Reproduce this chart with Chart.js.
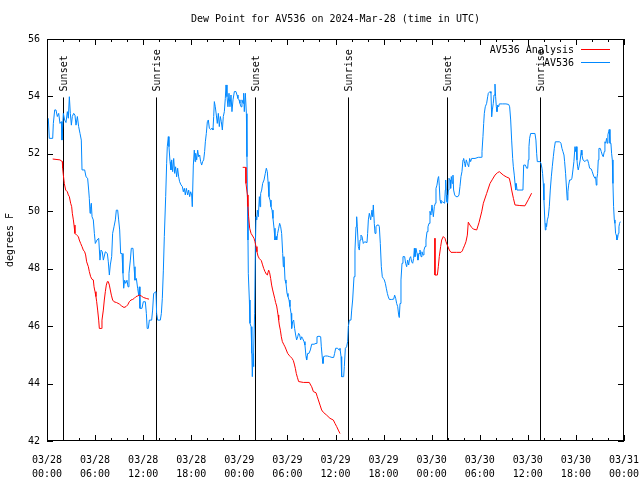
<!DOCTYPE html>
<html>
<head>
<meta charset="utf-8">
<title>Dew Point for AV536</title>
<script src="https://cdn.jsdelivr.net/npm/chart.js@4.4.1/dist/chart.umd.min.js"></script>
<style>
    html, body { margin: 0; padding: 0; background: #fff; }
    canvas { display: block; }
</style>
</head>
<body>
<canvas id="dewChart" width="640" height="480"></canvas>
<script>
// Hours after 03/28 00:00 UTC, dew point in degrees F
const obsHours = [
    0.16, 0.29, 0.71, 0.79, 0.96, 1.12, 1.29, 1.46, 1.62, 1.79,
    1.87, 2.04, 2.20, 2.37, 2.54, 2.66, 2.79, 2.91, 3.04, 3.16,
    3.33, 3.49, 3.62, 3.79, 3.95, 4.12, 4.28, 4.37, 4.70, 4.87,
    5.07, 5.20, 5.28, 5.37, 5.45, 5.53, 5.62, 5.78, 5.91, 6.03,
    6.24, 6.45, 6.61, 6.74, 6.90, 7.03, 7.28, 7.53, 7.65, 7.78,
    7.90, 8.07, 8.19, 8.36, 8.53, 8.65, 8.82, 8.94, 9.07, 9.19,
    9.36, 9.48, 9.57, 9.69, 9.82, 9.98, 10.11, 10.23, 10.40, 10.52,
    10.73, 10.86, 10.98, 11.15, 11.31, 11.44, 11.52, 11.60, 11.85, 12.02,
    12.27, 12.40, 12.50, 12.64, 12.77, 13.06, 13.18, 13.31, 13.60, 13.68,
    13.81, 14.14, 14.27, 14.39, 14.52, 14.64, 14.81, 14.93, 15.01, 15.14,
    15.22, 15.35, 15.47, 15.56, 15.68, 15.81, 15.93, 16.05, 16.18, 16.30,
    16.43, 16.55, 16.72, 16.89, 17.01, 17.14, 17.26, 17.39, 17.55, 17.68,
    17.80, 17.93, 18.05, 18.13, 18.26, 18.38, 18.47, 18.55, 18.68, 18.80,
    18.92, 19.05, 19.17, 19.30, 19.42, 19.55, 19.67, 19.76, 19.88, 20.01,
    20.13, 20.26, 20.42, 20.59, 20.71, 20.80, 20.88, 21.00, 21.13, 21.25,
    21.38, 21.50, 21.63, 21.75, 21.88, 22.00, 22.13, 22.25, 22.34, 22.46,
    22.58, 22.71, 22.83, 22.96, 23.08, 23.21, 23.38, 23.58, 23.71, 23.83,
    23.96, 24.08, 24.21, 24.33, 24.46, 24.54, 24.62, 24.75, 24.88, 24.95,
    25.02, 25.08, 25.12, 25.25, 25.33, 25.46, 25.54, 25.58, 25.62, 25.71,
    25.75, 25.83, 25.91, 26.00, 26.08, 26.16, 26.25, 26.37, 26.50, 26.58,
    26.66, 26.79, 26.91, 27.08, 27.24, 27.37, 27.49, 27.58, 27.70, 27.83,
    27.95, 28.08, 28.20, 28.33, 28.45, 28.58, 28.66, 28.78, 28.91, 29.03,
    29.16, 29.28, 29.41, 29.49, 29.57, 29.70, 29.82, 29.95, 30.07, 30.20,
    30.32, 30.45, 30.53, 30.65, 30.78, 30.90, 31.03, 31.15, 31.28, 31.40,
    31.53, 31.65, 31.78, 31.90, 32.07, 32.19, 32.32, 32.40, 32.53, 32.69,
    32.86, 33.03, 33.32, 33.57, 33.69, 33.94, 34.15, 34.23, 34.36, 34.44,
    34.52, 34.73, 34.98, 35.23, 35.56, 35.77, 35.89, 36.02, 36.27, 36.44,
    36.56, 36.69, 36.77, 37.02, 37.10, 37.23, 37.39, 37.52, 37.60, 37.73,
    37.93, 38.02, 38.14, 38.31, 38.43, 38.56, 38.64, 38.72, 38.85, 38.97,
    39.06, 39.18, 39.31, 39.47, 39.64, 39.93, 40.01, 40.10, 40.22, 40.39,
    40.55, 40.64, 40.72, 40.84, 40.93, 41.05, 41.18, 41.39, 41.47, 41.59,
    41.72, 41.84, 41.97, 42.09, 42.22, 42.34, 42.47, 42.59, 42.72, 43.01,
    43.26, 43.38, 43.51, 43.63, 43.76, 43.88, 43.96, 44.05, 44.17, 44.30,
    44.42, 44.63, 44.75, 44.88, 45.00, 45.13, 45.25, 45.38, 45.50, 45.63,
    45.75, 45.84, 45.92, 46.04, 46.17, 46.29, 46.42, 46.54, 46.67, 46.79,
    46.92, 47.04, 47.17, 47.29, 47.42, 47.54, 47.67, 47.79, 47.91, 48.04,
    48.21, 48.33, 48.46, 48.54, 48.66, 48.79, 48.87, 48.95, 49.04, 49.16,
    49.37, 49.62, 49.70, 49.75, 49.83, 49.91, 49.99, 50.08, 50.16, 50.29,
    50.37, 50.45, 50.58, 50.66, 50.74, 50.87, 51.03, 51.28, 51.41, 51.53,
    51.66, 51.78, 51.91, 51.99, 52.12, 52.20, 52.32, 52.45, 52.62, 52.74,
    52.86, 52.99, 53.41, 53.82, 54.20, 54.28, 54.40, 54.49, 54.57, 54.69,
    54.86, 54.99, 55.07, 55.28, 55.40, 55.49, 55.57, 55.69, 55.78, 55.90,
    55.98, 56.07, 56.15, 56.23, 56.36, 56.44, 56.86, 57.27, 57.61, 57.73,
    57.86, 57.98, 58.11, 58.19, 58.31, 58.40, 58.48, 58.56, 58.65, 59.02,
    59.39, 59.48, 59.69, 59.85, 59.98, 60.06, 60.14, 60.22, 60.35, 60.89,
    61.01, 61.10, 61.18, 61.51, 61.64, 61.76, 61.84, 61.93, 62.01, 62.09,
    62.18, 62.26, 62.34, 62.43, 62.55, 62.68, 62.80, 62.93, 63.05, 63.18,
    63.30, 63.43, 63.97, 64.13, 64.26, 64.38, 64.51, 64.59, 64.71, 64.84,
    64.92, 65.00, 65.09, 65.21, 65.38, 65.50, 65.63, 65.75, 65.88, 65.96,
    66.04, 66.13, 66.21, 66.29, 66.42, 66.54, 66.67, 66.75, 66.88, 67.13,
    67.33, 67.46, 67.58, 67.71, 67.92, 68.04, 68.21, 68.37, 68.46, 68.54,
    68.62, 68.71, 68.79, 68.87, 69.04, 69.16, 69.29, 69.41, 69.54, 69.62,
    69.71, 69.83, 69.91, 69.99, 70.08, 70.16, 70.25, 70.37, 70.45, 70.54,
    70.62, 70.70, 70.79, 70.87, 70.95, 71.04, 71.12, 71.20, 71.29, 71.37,
    71.45, 71.54
];
const obsDewpt = [
    53.24, 52.54, 52.54, 53.06, 53.53, 53.53, 53.30, 53.41, 53.06, 53.12,
    52.48, 53.41, 53.18, 53.09, 53.47, 53.24, 53.99, 53.41, 53.00, 53.30,
    53.41, 53.35, 53.00, 53.30, 52.95, 52.71, 52.48, 51.44, 51.44, 51.20,
    51.15, 50.74, 50.45, 49.93, 50.16, 50.28, 49.81, 49.70, 49.23, 48.88,
    49.00, 49.06, 48.30, 48.65, 48.59, 48.30, 48.59, 48.53, 48.24, 47.78,
    48.13, 48.42, 49.23, 49.46, 49.70, 50.04, 50.04, 49.70, 49.35, 48.53,
    48.53, 47.84, 47.32, 47.60, 47.49, 47.60, 47.37, 47.84, 48.30, 48.71,
    48.71, 48.07, 47.60, 47.66, 47.32, 47.08, 47.37, 46.62, 46.62, 46.85,
    46.85, 46.44, 45.92, 45.92, 46.21, 46.21, 46.56, 47.14, 47.20, 46.44,
    46.21, 46.21, 46.44, 46.97, 47.95, 49.12, 50.51, 51.67, 52.25, 52.60,
    52.25, 51.73, 51.44, 51.79, 51.38, 51.84, 51.32, 51.55, 51.20, 51.50,
    51.20, 51.03, 50.92, 50.86, 50.68, 50.80, 50.57, 50.80, 50.57, 50.74,
    50.51, 50.68, 50.57, 50.16, 51.61, 52.13, 51.73, 52.02, 51.79, 52.13,
    51.90, 51.96, 51.73, 51.61, 51.73, 51.79, 52.08, 52.42, 52.71, 53.12,
    53.18, 52.89, 52.85, 52.89, 52.83, 53.30, 53.82, 53.64, 53.35, 53.06,
    53.41, 52.95, 53.30, 53.12, 52.83, 53.30, 53.47, 53.93, 54.40, 53.99,
    53.64, 54.11, 53.64, 54.05, 53.47, 53.88, 54.17, 54.17, 54.05, 53.93,
    53.88, 53.76, 53.64, 53.88, 53.76, 54.11, 53.47, 54.11, 53.40, 51.90,
    50.16, 49.00, 47.84, 46.91, 46.10, 45.98, 45.52, 45.05, 44.24, 45.05,
    44.59, 45.17, 46.45, 48.77, 49.81, 49.70, 50.04, 49.81, 50.51, 50.16,
    50.62, 50.74, 50.97, 51.09, 51.32, 51.50, 51.38, 51.03, 50.51, 50.39,
    50.16, 50.04, 49.75, 49.41, 49.00, 49.12, 49.00, 49.23, 49.41, 49.58,
    49.46, 49.23, 48.53, 48.07, 48.42, 47.61, 47.49, 47.14, 47.03, 46.91,
    46.68, 46.45, 45.92, 46.15, 46.21, 45.92, 45.69, 45.52, 45.63, 45.75,
    45.69, 45.52, 45.63, 45.57, 45.46, 45.34, 44.94, 44.82, 45.05, 45.05,
    45.17, 45.37, 45.37, 45.40, 45.63, 45.65, 45.63, 45.28, 44.88, 44.70,
    44.94, 44.96, 44.96, 44.94, 44.91, 44.91, 45.05, 45.23, 45.23, 45.17,
    45.23, 44.94, 44.24, 44.24, 44.59, 45.23, 45.28, 45.47, 45.98, 46.21,
    46.21, 46.56, 46.91, 47.72, 48.65, 49.46, 49.81, 49.46, 48.77, 48.65,
    49.00, 49.17, 49.12, 48.88, 48.94, 48.91, 49.23, 49.70, 49.93, 49.70,
    50.04, 49.81, 50.22, 49.58, 49.23, 49.46, 49.52, 49.52, 49.46, 48.88,
    48.07, 47.72, 47.66, 47.61, 47.49, 47.32, 47.14, 47.02, 46.93, 46.93,
    46.94, 47.08, 46.97, 46.79, 46.68, 46.39, 46.30, 46.79, 47.61, 48.19,
    48.42, 48.42, 48.19, 48.07, 48.30, 48.13, 48.36, 48.42, 48.24, 48.19,
    48.36, 48.71, 48.42, 48.71, 48.53, 48.30, 48.53, 48.65, 48.42, 48.59,
    48.48, 48.65, 48.77, 49.00, 49.29, 49.46, 49.58, 50.00, 49.87, 50.22,
    49.81, 50.16, 50.28, 50.80, 50.91, 51.15, 51.21, 50.91, 50.39, 50.28,
    50.33, 50.28, 50.74, 51.09, 50.57, 50.33, 50.28, 50.74, 51.15, 51.09,
    50.80, 51.21, 50.97, 51.26, 50.74, 50.57, 50.51, 50.51, 50.57, 50.86,
    51.21, 51.38, 51.79, 51.84, 51.67, 51.55, 51.79, 51.67, 51.55, 51.84,
    51.73, 51.84, 51.84, 51.88, 51.88, 52.08, 52.60, 53.06, 53.41, 53.64,
    53.76, 53.99, 54.11, 54.17, 54.11, 53.29, 53.53, 53.76, 54.05, 54.43,
    53.99, 53.64, 53.47, 53.70, 53.64, 53.74, 53.74, 53.74, 53.72, 53.64,
    53.18, 52.48, 51.84, 51.55, 51.26, 50.97, 50.74, 50.97, 50.74, 50.74,
    50.74, 51.61, 51.61, 51.50, 51.50, 51.79, 52.25, 52.54, 52.71, 52.71,
    52.48, 52.02, 51.73, 51.73, 51.67, 51.50, 51.32, 50.97, 50.39, 49.87,
    49.35, 49.58, 49.46, 49.70, 49.81, 50.16, 50.74, 51.20, 51.55, 51.90,
    52.19, 52.42, 52.42, 52.37, 52.19, 52.08, 51.96, 51.73, 51.32, 50.74,
    50.39, 50.68, 50.91, 51.09, 51.09, 51.15, 51.44, 51.73, 52.25, 52.08,
    52.25, 51.79, 51.55, 51.44, 51.61, 51.79, 52.13, 51.96, 51.79, 51.73,
    51.79, 51.79, 51.67, 51.50, 51.47, 51.38, 51.23, 51.15, 51.20, 50.91,
    51.15, 51.32, 51.79, 52.19, 52.19, 52.08, 51.96, 51.90, 52.08, 52.42,
    52.37, 52.54, 52.37, 52.66, 52.77, 52.85, 52.37, 52.37, 52.02, 51.79,
    50.97, 50.16, 49.70, 49.58, 49.23, 49.17, 49.00, 49.06, 49.23, 49.46,
    49.58, 49.64
];

// analysis: three runs, null marks the gaps
const anaHours = [
    0.71, 1.62, 1.91, 1.95, 2.04, 2.16, 2.33, 2.54, 2.66, 2.79,
    2.95, 3.08, 3.16, 3.29, 3.37, 3.49, 3.70, 3.91, 4.03, 4.20,
    4.37, 4.53, 4.70, 4.82, 4.95, 5.16, 5.28, 5.45, 5.62, 5.78,
    5.87, 5.99, 6.11, 6.20, 6.32, 6.45, 6.53, 6.78, 6.86, 7.03,
    7.15, 7.28, 7.40, 7.53, 7.65, 7.78, 7.90, 8.03, 8.19, 8.36,
    8.69, 9.03, 9.32, 9.61, 9.86, 10.07, 10.27, 10.48, 10.69, 10.90,
    11.11, 11.31, 11.52, 11.77, 12.02, 12.44, 12.73,
    18.00,
    24.42, 24.79, 24.83, 25.00, 25.08, 25.16, 25.29, 25.46, 25.66, 25.83,
    25.95, 26.08, 26.20, 26.33, 26.50, 26.75, 26.87, 27.04, 27.20, 27.37,
    27.49, 27.66, 27.78, 27.91, 28.03, 28.16, 28.28, 28.41, 28.53, 28.66,
    28.74, 28.83, 28.91, 28.99, 29.12, 29.24, 29.37, 29.53, 29.70, 29.86,
    30.03, 30.20, 30.36, 30.57, 30.74, 30.86, 30.99, 31.11, 31.24, 31.40,
    31.99, 32.73, 32.90, 33.03, 33.24, 33.57, 33.73, 33.86, 34.07, 34.27,
    34.48, 34.90, 35.31, 35.73, 35.94, 36.15, 36.35, 36.56,
    42.00,
    48.41, 48.41, 48.71, 48.83, 48.95, 49.12, 49.25, 49.45, 49.66, 49.79,
    49.95, 50.20, 50.41, 51.12, 51.66, 51.82, 51.95, 52.12, 52.28, 52.45,
    52.57, 52.78, 52.99, 53.20, 53.62, 53.90, 54.24, 54.45, 54.86, 55.28,
    55.60, 55.90, 56.20, 56.44, 56.94, 57.30, 57.69, 57.85, 57.98, 58.20,
    58.40, 59.00, 59.64, 60.05, 60.47
];
const anaDewpt = [
    51.82, 51.79, 51.73, 51.50, 51.26, 50.97, 50.74, 50.68, 50.57, 50.51,
    50.28, 50.16, 49.93, 49.70, 49.52, 49.23, 49.17, 49.12, 49.00, 48.88,
    48.77, 48.65, 48.59, 48.48, 48.24, 48.07, 47.90, 47.72, 47.63, 47.61,
    47.37, 47.20, 47.03, 46.85, 46.56, 46.21, 45.92, 45.92, 46.21, 46.56,
    46.91, 47.20, 47.43, 47.55, 47.55, 47.43, 47.26, 47.08, 46.91, 46.85,
    46.82, 46.77, 46.70, 46.65, 46.68, 46.74, 46.85, 46.91, 46.93, 46.97,
    47.03, 47.05, 47.08, 47.05, 47.00, 46.96, 46.94,
    null,
    51.53, 51.53, 50.97, 50.57, 50.16, 49.81, 49.41, 49.23, 49.14, 49.06,
    48.94, 48.77, 48.59, 48.44, 48.35, 48.28, 48.16, 48.01, 47.90, 47.81,
    47.78, 47.95, 47.86, 47.66, 47.43, 47.26, 47.12, 46.97, 46.82, 46.70,
    46.56, 46.39, 46.21, 46.04, 45.86, 45.63, 45.46, 45.37, 45.28, 45.17,
    45.05, 44.99, 44.94, 44.88, 44.80, 44.68, 44.53, 44.35, 44.22, 44.07,
    44.04, 44.04, 43.95, 43.89, 43.72, 43.68, 43.54, 43.43, 43.25, 43.08,
    43.00, 42.90, 42.79, 42.73, 42.61, 42.50, 42.38, 42.26,
    null,
    49.06, 47.78, 47.78, 48.07, 48.42, 48.77, 49.00, 49.12, 49.06, 48.94,
    48.82, 48.65, 48.57, 48.57, 48.57, 48.62, 48.71, 48.82, 48.94, 49.17,
    49.62, 49.52, 49.44, 49.38, 49.35, 49.60, 49.98, 50.28, 50.62, 50.97,
    51.12, 51.26, 51.34, 51.38, 51.26, 51.20, 51.15, 50.95, 50.74, 50.45,
    50.22, 50.20, 50.19, 50.40, 50.63
];

const sunHours = [2.03, 13.64, 25.99, 37.60, 49.95, 61.55];
const sunLabels = ['Sunset', 'Sunrise', 'Sunset', 'Sunrise', 'Sunset', 'Sunrise'];
const sunLineTop = 54;

const dayLabels = ['03/28', '03/29', '03/30', '03/31'];
const hourLabels = ['00:00', '06:00', '12:00', '18:00'];

const seriesNames = ['AV536 Analysis', 'AV536'];
const seriesColors = ['#ff0000', '#0088ff'];

const MONO = '"DejaVu Sans Mono", "Liberation Mono", monospace';
const FONT = '10px ' + MONO;

function toPoints(xs, ys) {
    return xs.map((h, i) => ({ x: h, y: ys[i] }));
}

// sunrise / sunset markers, drawn under the data
const sunMarkers = {
    id: 'sunMarkers',
    beforeDatasetsDraw(chart) {
        const { ctx, chartArea: a, scales: { x, y } } = chart;
        const top = y.getPixelForValue(sunLineTop) + 1;
        ctx.save();
        ctx.strokeStyle = '#000';
        ctx.fillStyle = '#000';
        ctx.lineWidth = 1;
        ctx.font = FONT;
        sunHours.forEach((h, i) => {
            const px = Math.round(x.getPixelForValue(h)) + 0.5;
            ctx.beginPath();
            ctx.moveTo(px, top);
            ctx.lineTo(px, a.bottom);
            ctx.stroke();
            ctx.save();
            ctx.translate(px + 1, top - 6);
            ctx.rotate(-Math.PI / 2);
            ctx.textAlign = 'left';
            ctx.textBaseline = 'middle';
            ctx.fillText(sunLabels[i], 0, 0);
            ctx.restore();
        });
        ctx.restore();
    }
};

// gnuplot style frame with inward ticks and the key
const gnuFrame = {
    id: 'gnuFrame',
    afterDatasetsDraw(chart) {
        const { ctx, chartArea: a, scales: { x, y } } = chart;
        ctx.save();
        ctx.strokeStyle = '#000';
        ctx.lineWidth = 1;
        ctx.beginPath();
        for (let h = x.min; h <= x.max; h += 2) {
            const px = Math.round(x.getPixelForValue(h)) + 0.5;
            const len = h % 6 === 0 ? 6 : 3;
            ctx.moveTo(px, a.bottom);
            ctx.lineTo(px, a.bottom - len);
            ctx.moveTo(px, a.top);
            ctx.lineTo(px, a.top + len);
        }
        y.ticks.forEach(t => {
            const py = Math.round(y.getPixelForValue(t.value)) + 0.5;
            ctx.moveTo(a.left, py);
            ctx.lineTo(a.left + 6, py);
            ctx.moveTo(a.right, py);
            ctx.lineTo(a.right - 6, py);
        });
        ctx.stroke();
        ctx.strokeRect(a.left + 0.5, a.top + 0.5, a.right - a.left - 1, a.bottom - a.top - 1);

        // key, top right
        ctx.font = FONT;
        ctx.fillStyle = '#000';
        ctx.textAlign = 'right';
        ctx.textBaseline = 'middle';
        seriesNames.forEach((name, i) => {
            const rowY = a.top + 11 + i * 13;
            ctx.fillText(name, a.right - 50, rowY);
            ctx.strokeStyle = seriesColors[i];
            ctx.beginPath();
            ctx.moveTo(a.right - 43, rowY - 0.5);
            ctx.lineTo(a.right - 14, rowY - 0.5);
            ctx.stroke();
        });
        ctx.restore();
    }
};

const ctx = document.getElementById('dewChart').getContext('2d');
const dewChart = new Chart(ctx, {
    type: 'line',
    data: {
        datasets: [
            {
                label: seriesNames[0],
                data: toPoints(anaHours, anaDewpt),
                borderColor: seriesColors[0],
                borderWidth: 1,
                pointRadius: 0,
                tension: 0,
                fill: false,
                spanGaps: false
            },
            {
                label: seriesNames[1],
                data: toPoints(obsHours, obsDewpt),
                borderColor: seriesColors[1],
                borderWidth: 1,
                pointRadius: 0,
                tension: 0,
                fill: false
            }
        ]
    },
    options: {
        responsive: false,
        animation: false,
        events: [],
        layout: { padding: { left: 0, right: 16, top: 0, bottom: 0 } },
        plugins: {
            legend: { display: false },
            tooltip: { enabled: false },
            title: {
                display: true,
                fullSize: false,
                text: 'Dew Point for AV536 on 2024-Mar-28 (time in UTC)',
                color: '#000',
                font: { family: MONO, size: 10, weight: 'normal', lineHeight: 1.2 },
                padding: { top: 13, bottom: 14 }
            }
        },
        scales: {
            x: {
                type: 'linear',
                min: 0,
                max: 72,
                afterFit: scale => {
                    scale.height = 39;
                    scale.paddingLeft = 0;
                    scale.paddingRight = 0;
                },
                grid: { display: false, drawTicks: false },
                border: { display: false },
                ticks: {
                    stepSize: 6,
                    autoSkip: false,
                    maxRotation: 0,
                    padding: 12,
                    color: '#000',
                    font: { family: MONO, size: 10, lineHeight: 1.45 },
                    callback: value => [dayLabels[Math.floor(value / 24)], hourLabels[(value % 24) / 6]]
                }
            },
            y: {
                min: 42,
                max: 56,
                afterFit: scale => { scale.width = 47; },
                grid: { display: false, drawTicks: false },
                border: { display: false },
                ticks: {
                    stepSize: 2,
                    padding: 7,
                    color: '#000',
                    font: { family: MONO, size: 10 }
                },
                title: {
                    display: true,
                    text: 'degrees F',
                    color: '#000',
                    font: { family: MONO, size: 10, lineHeight: 1.2 },
                    padding: { top: 4, bottom: 0 }
                }
            }
        }
    },
    plugins: [sunMarkers, gnuFrame]
});
</script>
</body>
</html>
